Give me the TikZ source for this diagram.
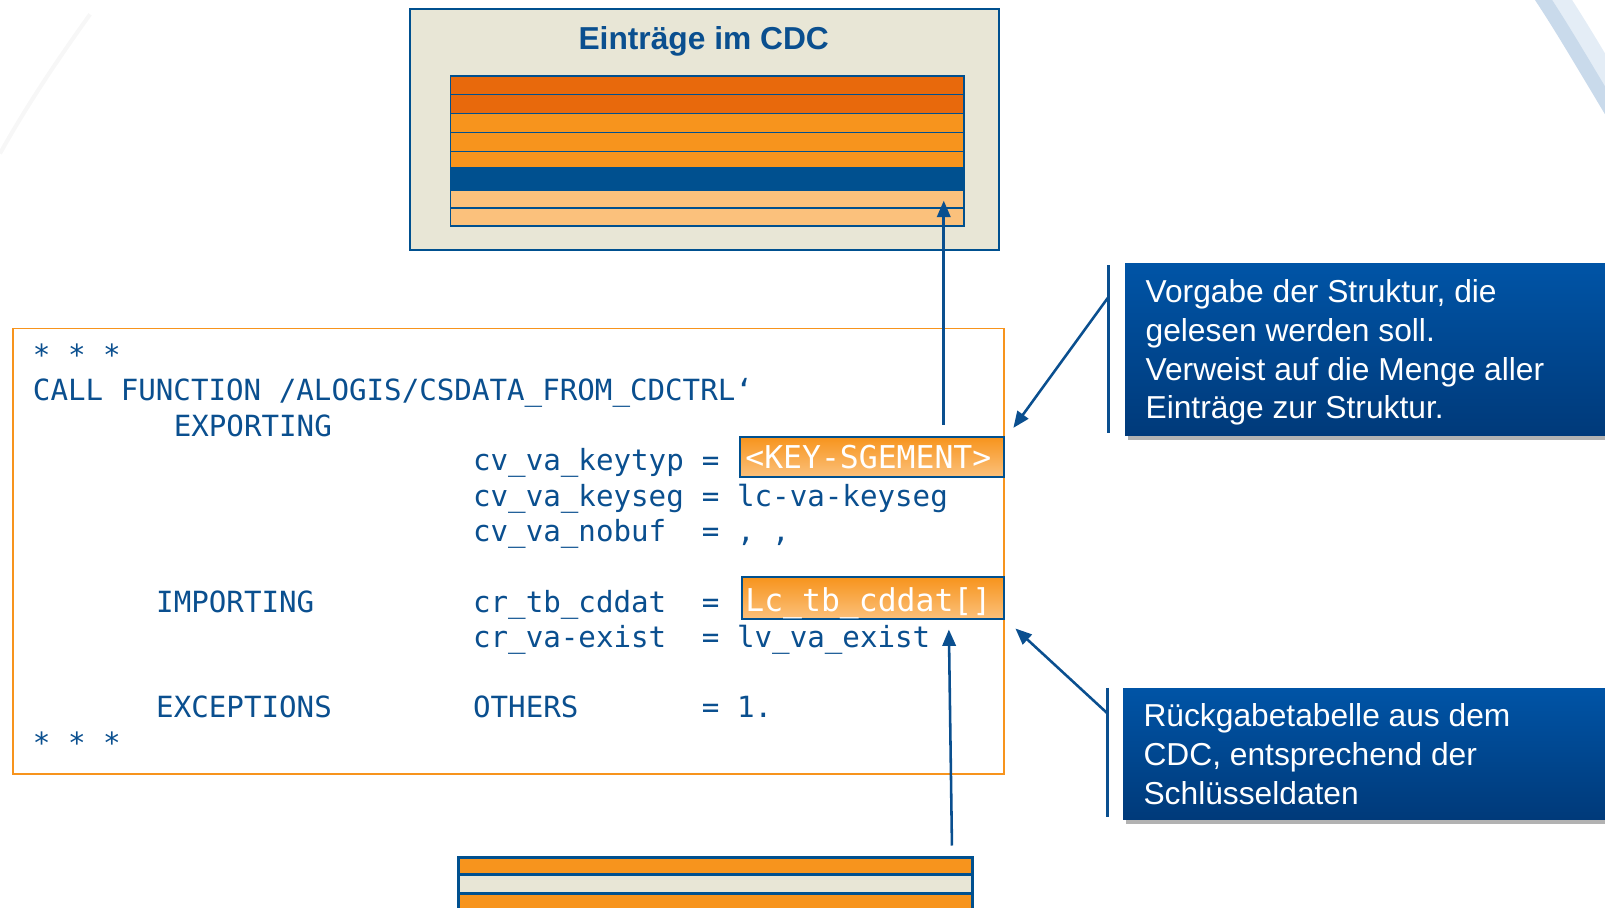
\documentclass[tikz,border=0pt]{standalone}
\usepackage{fontspec}
\setmainfont{Liberation Sans}
\newfontfamily\codefont{DejaVu Sans Mono}
\usetikzlibrary{arrows.meta,shadows}
\definecolor{sapblue}{HTML}{0A4F8F}
\definecolor{rowblue}{HTML}{00508F}
\definecolor{darkor}{HTML}{E8690C}
\definecolor{orng}{HTML}{F7941D}
\definecolor{lightor}{HTML}{FBC17C}
\definecolor{beige}{HTML}{E8E6D6}
\definecolor{calltop}{HTML}{0054A6}
\definecolor{callbot}{HTML}{003A7A}
\definecolor{swoosh}{HTML}{C9DAEB}
\definecolor{swooshlt}{HTML}{E4EDF6}
\begin{document}
\begin{tikzpicture}[x=1pt,y=-1pt,
  codeline/.style={anchor=base west, inner sep=0pt, text=sapblue,
    font=\codefont\fontsize{28.5}{34}\selectfont},
  hltext/.style={anchor=base west, inner sep=0pt, text=white,
    font=\codefont\fontsize{30.7}{36}\selectfont},
  tabrow/.style={draw=rowblue, line width=1.5pt, anchor=north west,
    minimum width=502pt, inner sep=0pt, outer sep=0pt},
  hlbox/.style={draw=rowblue, line width=2pt, top color=orng, bottom color=lightor,
    anchor=north west, inner sep=0pt},
  callout/.style={top color=calltop, bottom color=callbot, anchor=north west,
    inner sep=0pt, drop shadow={shadow xshift=3pt, shadow yshift=-5pt, opacity=0.3, fill=black}},
  calltext/.style={anchor=base west, inner sep=0pt, text=white,
    font=\fontsize{31}{37.7}\selectfont},
  barline/.style={draw=sapblue, line width=2.5pt},
  arr/.style={draw=sapblue, line width=2.5pt, -{Triangle[length=16pt,width=13pt]}}
]
\useasboundingbox (0,0) rectangle (1568,887);
\clip (0,0) rectangle (1568,887);

% decorative swooshes
\draw[swooshlt, line width=30pt] (1510,-12) .. controls (1535,25) and (1555,60) .. (1590,118);
\draw[swoosh, line width=14pt] (1500,-12) .. controls (1525,25) and (1545,60) .. (1580,118);
\draw[black!3, line width=4pt] (88,14) .. controls (55,60) and (25,105) .. (0,150);

% top box
\node[draw=rowblue, fill=beige, line width=2pt, anchor=north west,
  minimum width=575pt, minimum height=235pt, inner sep=0pt] (cdc) at (400,8) {};
\node[anchor=base, inner sep=0pt, text=sapblue, font=\bfseries\fontsize{31}{37}\selectfont]
  (title) at (687.5,48) {Einträge im CDC};

\node[tabrow, fill=darkor,  minimum height=18.5pt] (r1) at (440,74) {};
\node[tabrow, fill=darkor,  minimum height=18.5pt] (r2) at (440,92.5) {};
\node[tabrow, fill=orng,    minimum height=18.5pt] (r3) at (440,111) {};
\node[tabrow, fill=orng,    minimum height=18.5pt] (r4) at (440,129.5) {};
\node[tabrow, fill=orng,    minimum height=16pt]   (r5) at (440,148) {};
\node[tabrow, fill=rowblue, minimum height=22pt]   (r6) at (440,164) {};
\node[tabrow, fill=lightor, minimum height=17.3pt] (r7) at (440,186) {};
\node[tabrow, fill=lightor, minimum height=17.3pt] (r8) at (440,203.3) {};

% code box
\node[draw=orng, line width=1.8pt, fill=white, anchor=north west,
  minimum width=968pt, minimum height=435pt, inner sep=0pt] (code) at (12,320) {};

\node[hlbox, minimum width=258pt, minimum height=39pt] (kseg) at (722,426) {};
\node[hltext] (ksegt) at (728,458) {<KEY-SGEMENT>};
\node[hlbox, minimum width=256pt, minimum height=41pt] (cdd) at (724,563) {};
\node[hltext] (cddt) at (728,597) {Lc\_tb\_cddat[]};

\node[codeline] (l0)  at ({32+0*17.2},357) {* * *};
\node[codeline] (l1)  at ({32+0*17.2},391) {CALL FUNCTION /ALOGIS/CSDATA\_FROM\_CDCTRL‘};
\node[codeline] (l2)  at ({32+8*17.2},426) {EXPORTING};
\node[codeline] (l3a) at ({32+25*17.2},460) {cv\_va\_keytyp};
\node[codeline] (l3b) at ({32+38*17.2},460) {=};
\node[codeline] (l4a) at ({32+25*17.2},495) {cv\_va\_keyseg};
\node[codeline] (l4b) at ({32+38*17.2},495) {= lc-va-keyseg};
\node[codeline] (l5a) at ({32+25*17.2},529) {cv\_va\_nobuf};
\node[codeline] (l5b) at ({32+38*17.2},529) {= , ,};
\node[codeline] (l7a) at ({32+7*17.2},598) {IMPORTING};
\node[codeline] (l7b) at ({32+25*17.2},598) {cr\_tb\_cddat};
\node[codeline] (l7c) at ({32+38*17.2},598) {=};
\node[codeline] (l8a) at ({32+25*17.2},633) {cr\_va-exist};
\node[codeline] (l8b) at ({32+38*17.2},633) {= lv\_va\_exist};
\node[codeline] (l10a) at ({32+7*17.2},701) {EXCEPTIONS};
\node[codeline] (l10b) at ({32+25*17.2},701) {OTHERS};
\node[codeline] (l10c) at ({32+38*17.2},701) {= 1.};
\node[codeline] (l11) at ({32+0*17.2},736) {* * *};

% bottom table
\node[draw=rowblue, line width=3pt, fill=orng, anchor=north west, minimum width=503pt,
  minimum height=17pt, inner sep=0pt] (b1) at (446,836) {};
\node[draw=rowblue, line width=3pt, fill=beige, anchor=north west, minimum width=503pt,
  minimum height=18pt, inner sep=0pt] (b2) at (446,853) {};
\node[draw=rowblue, line width=3pt, fill=orng, anchor=north west, minimum width=503pt,
  minimum height=50pt, inner sep=0pt] (b3) at (446,871) {};

% callouts
\node[callout, minimum width=500pt, minimum height=168pt] (c1) at (1099,257) {};
\node[calltext] (c1a) at (1119,296) {Vorgabe der Struktur, die};
\node[calltext] (c1b) at (1119,334) {gelesen werden soll.};
\node[calltext] (c1c) at (1119,371.5) {Verweist auf die Menge aller};
\node[calltext] (c1d) at (1119,409) {Einträge zur Struktur.};

\node[callout, minimum width=500pt, minimum height=128pt] (c2) at (1097,672) {};
\node[calltext] (c2a) at (1117,710) {Rückgabetabelle aus dem};
\node[calltext] (c2b) at (1117,748) {CDC, entsprechend der};
\node[calltext] (c2c) at (1117,786) {Schlüsseldaten};

% callout bars and pointers
\coordinate (v1t) at (1083,259);
\coordinate (v1b) at (1083,423);
\coordinate (v1p) at (1083,290);
\coordinate (t1)  at (990,418);
\draw[barline] (v1t) -- (v1b);
\draw[arr] (v1p) -- (t1);

\coordinate (v2t) at (1082,672);
\coordinate (v2b) at (1082,798);
\coordinate (v2p) at (1082,697);
\coordinate (t2)  at (992,614);
\draw[barline] (v2t) -- (v2b);
\draw[arr] (v2p) -- (t2);

% vertical arrows
\coordinate (a1s) at (922,415);
\coordinate (a1e) at (922,196);
\draw[arr] (a1s) -- (a1e);
\coordinate (a2s) at (930,826);
\coordinate (a2e) at (927,615);
\draw[arr] (a2s) -- (a2e);
\end{tikzpicture}
\end{document}
